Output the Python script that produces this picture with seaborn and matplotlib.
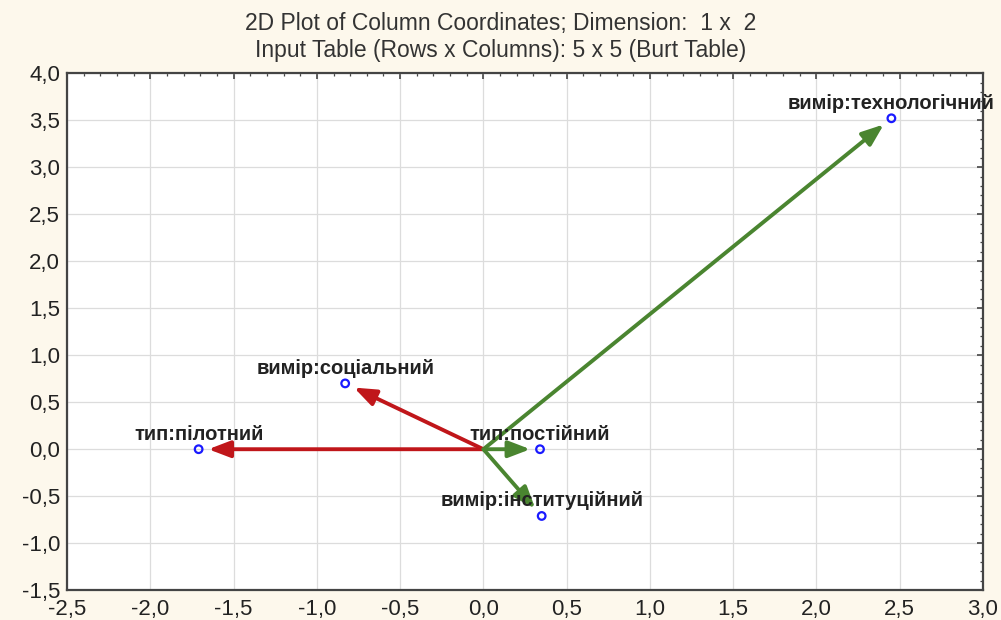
import matplotlib
matplotlib.use("Agg")
import matplotlib.pyplot as plt
from matplotlib.ticker import MultipleLocator, AutoMinorLocator, FuncFormatter
import seaborn as sns
import pandas as pd

# Column coordinates (dimension 1 x dimension 2)
labels = ["вимір:технологічний", "вимір:соціальний", "тип:пілотний",
          "тип:постійний", "вимір:інституційний"]
dim1 = [2.45, -0.83, -1.71, 0.34, 0.35]
dim2 = [3.52, 0.70, 0.00, 0.00, -0.71]
arrow_group = ["g", "r", "r", "g", "g"]

df = pd.DataFrame({"label": labels, "x": dim1, "y": dim2, "grp": arrow_group})

sns.set_theme(style="white")
plt.rcParams["font.family"] = ["Liberation Sans", "DejaVu Sans"]

bg = "#fdf8ec"
fig = plt.figure(figsize=(10.01, 6.20), dpi=100, facecolor=bg)
ax = fig.add_axes([0.067, 0.048, 0.915, 0.834])
ax.set_facecolor("white")

ax.set_xlim(-2.5, 3.0)
ax.set_ylim(-1.5, 4.0)
ax.xaxis.set_major_locator(MultipleLocator(0.5))
ax.yaxis.set_major_locator(MultipleLocator(0.5))
ax.xaxis.set_minor_locator(AutoMinorLocator(5))
ax.yaxis.set_minor_locator(AutoMinorLocator(5))
fmt = FuncFormatter(lambda v, p: f"{v:.1f}".replace(".", ","))
ax.xaxis.set_major_formatter(fmt)
ax.yaxis.set_major_formatter(fmt)
ax.grid(True, which="major", color="#dcdcdc", linewidth=0.9)
ax.set_axisbelow(True)
ax.tick_params(which="both", direction="in", top=True, right=True,
               colors="#444444", labelcolor="#222222")
ax.tick_params(which="major", length=4, width=1.2, labelsize=16)
ax.tick_params(axis="x", which="major", pad=6)
ax.tick_params(axis="y", which="major", pad=5)
ax.tick_params(which="minor", length=2.5, width=0.9)
for s in ax.spines.values():
    s.set_color("#444444")
    s.set_linewidth(1.6)

colors = {"g": "#4a8530", "r": "#c0161a"}
for _, r in df.iterrows():
    ax.annotate("", xy=(r.x, r.y), xytext=(0, 0),
                arrowprops=dict(arrowstyle="-|>,head_length=1.1,head_width=0.42",
                                color=colors[r.grp], lw=2.8,
                                shrinkA=0, shrinkB=7))

sns.scatterplot(data=df, x="x", y="y", ax=ax, marker="o", s=30,
                facecolor="none", edgecolor="#1a1aff", linewidth=1.6,
                legend=False, zorder=5)

for _, r in df.iterrows():
    ax.annotate(r.label, xy=(r.x, r.y), xytext=(0, 4), textcoords="offset points",
                ha="center", va="bottom", fontsize=14.5, color="#222222",
                fontweight="bold", zorder=6)

ax.set_xlabel("")
ax.set_ylabel("")
fig.text(0.5, 0.962, "2D Plot of Column Coordinates; Dimension:  1 x  2",
         ha="center", va="center", fontsize=16.5, color="#333333")
fig.text(0.5, 0.918, "Input Table (Rows x Columns): 5 x 5 (Burt Table)",
         ha="center", va="center", fontsize=16.5, color="#333333")

fig.savefig("out.png", dpi=100, facecolor=bg)
